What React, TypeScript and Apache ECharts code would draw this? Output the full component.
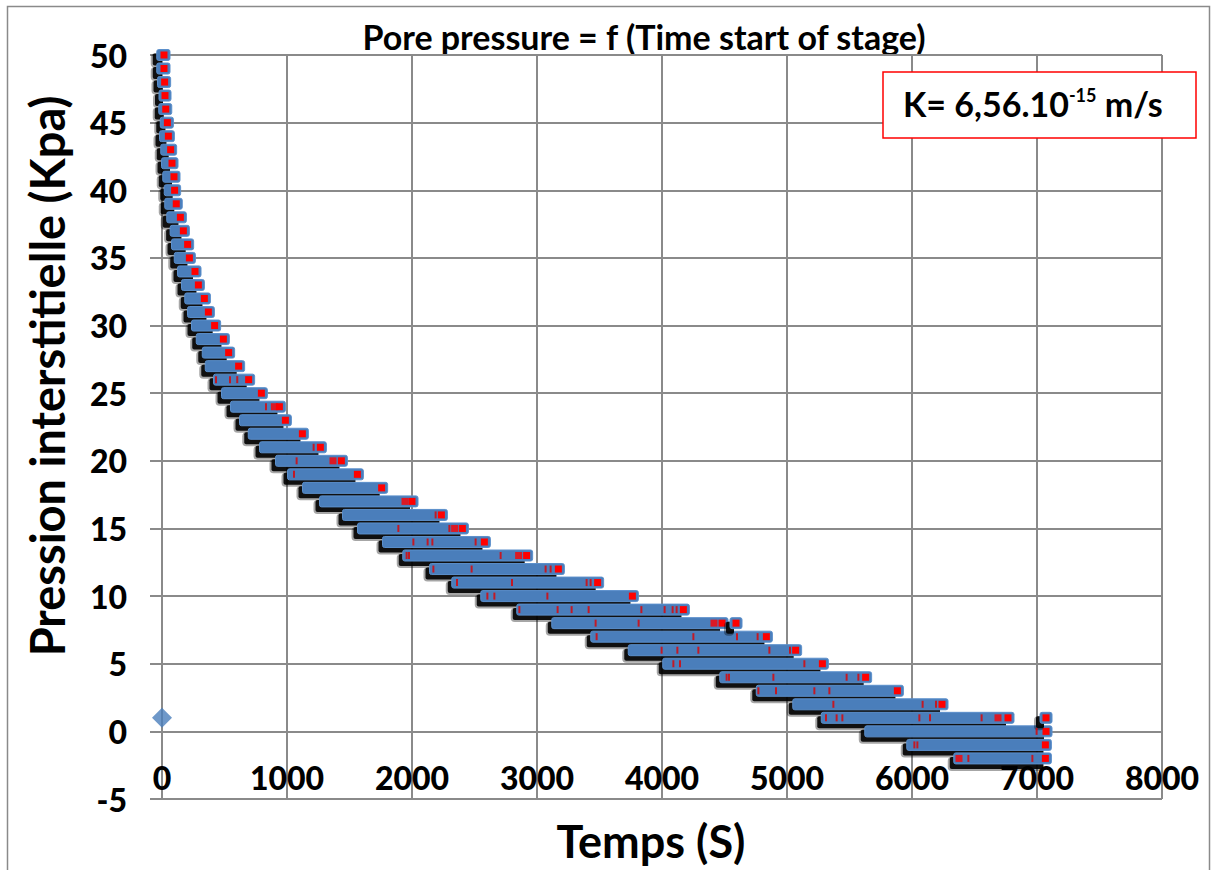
import React, { useEffect, useRef } from "react";
import * as echarts from "echarts";

// Stage pressure levels (kPa) with start / end times (s) of each stage
const pressures = [50, 49, 48, 47, 46, 45, 44, 43, 42, 41, 40, 39, 38, 37, 36, 35, 34, 33, 32, 31, 30, 29, 28, 27, 26, 25, 24, 23, 22, 21, 20, 19, 18, 17, 16, 15, 14, 13, 12, 11, 10, 9, 8, 7, 6, 5, 4, 3, 2, 1, 0, -1, -2];
const startTimes = [6, 6, 12, 24, 22, 34, 28, 38, 44, 54, 66, 70, 86, 113, 124, 146, 172, 204, 230, 252, 284, 322, 370, 394, 460, 524, 596, 668, 738, 828, 956, 1052, 1172, 1308, 1492, 1612, 1812, 1974, 2188, 2366, 2598, 2886, 3166, 3478, 3778, 4054, 4510, 4802, 5094, 5322, 5670, 6006, 6382];
const endTimes = [16, 16, 21, 24, 30, 43, 51, 69, 80, 96, 101, 114, 147, 171, 205, 219, 264, 291, 339, 371, 421, 491, 533, 613, 693, 795, 939, 987, 1123, 1267, 1435, 1563, 1757, 2000, 2235, 2403, 2579, 2917, 3171, 3485, 3763, 4171, 4480, 4835, 5069, 5283, 5629, 5883, 6240, 6768, 7072, 7067, 7067];

// isolated single points [time, pressure]
const isolatedPoints = [[4592, 8], [7072, 1]];
// secondary red square markers [time, pressure]
const extraRedSquares = [[899, 24], [1368, 20], [1944, 17], [2341, 15], [2853, 13], [4416, 8], [6688, 1], [6376, -2]];
// thin red marks visible inside the bars [time, pressure]
const redTicks = [
  [432, 26], [544, 26], [602, 26], [832, 24], [1213, 21], [1077, 20], [1056, 19], [2189, 16],
  [1891, 15], [2299, 15], [2011, 14], [2125, 14], [2163, 14], [2509, 14],
  [1957, 13], [1976, 13], [2709, 13], [2171, 12], [2477, 12], [3069, 12], [3109, 12],
  [2360, 11], [2800, 11], [3397, 11], [3429, 11], [2603, 10], [2659, 10], [3083, 10],
  [2859, 9], [3165, 9], [3277, 9], [3413, 9], [3835, 9], [4021, 9], [4085, 9], [4117, 9],
  [3469, 8], [3813, 8], [3477, 7], [4251, 7], [4600, 7], [4765, 7],
  [3997, 6], [4123, 6], [4291, 6], [4859, 6], [5024, 6], [4091, 5], [4144, 5], [5139, 5],
  [4517, 4], [4536, 4], [4891, 4], [5477, 4], [5571, 4], [4771, 3], [4912, 3], [5219, 3], [5339, 3],
  [5371, 2], [6085, 2], [6192, 2], [5312, 1], [5397, 1], [5443, 1], [6059, 1], [6144, 1], [6557, 1],
  [6997, 0], [6019, -1], [6043, -1], [6451, -2], [6963, -2],
];
// initial point (diamond)
const initialPoint = [[0, 1]];

const xTicks = { min: 0, max: 8000, interval: 1000 };
const yTicks = { min: -5, max: 50, interval: 5 };

const FONT = "Lato, 'Open Sans', sans-serif";
const BLUE = "#4A7EBB";
const GRID = "#8a8a8a";

export default function App() {
  const ref = useRef<HTMLDivElement>(null);
  useEffect(() => {
    if (!ref.current) return;
    const chart = echarts.init(ref.current, null, { renderer: "svg" });
    const stageData = pressures.map((p, i) => [startTimes[i], endTimes[i], p]);
    isolatedPoints.forEach(([t, p]) => stageData.push([t, t, p]));

    const renderItem = (params: any, api: any) => {
      const s = api.value(0);
      const e = api.value(1);
      const p = api.value(2);
      const a = api.coord([s, p]);
      const b = api.coord([e, p]);
      const h = 11;
      const x0 = a[0] - 6;
      const w = b[0] - a[0] + 12;
      const y0 = a[1] - h / 2;
      return {
        type: "group",
        children: [
          {
            type: "rect",
            shape: { x: x0 - 6, y: y0 + 4, width: Math.max(w - 2, 8), height: h + 3, r: 4 },
            style: { fill: "rgba(0,0,0,0.35)" },
          },
          {
            type: "rect",
            shape: { x: x0 - 4, y: y0 + 4, width: Math.max(w - 4, 6), height: h + 1, r: 2 },
            style: { fill: "rgba(0,0,0,0.9)" },
          },
          {
            type: "rect",
            shape: { x: x0, y: y0, width: w, height: h, r: 2 },
            style: { fill: BLUE, stroke: "#5B8FCB", lineWidth: 1 },
          },
          {
            type: "rect",
            shape: { x: b[0] - 3.5, y: b[1] - 3.5, width: 7, height: 7 },
            style: { fill: "#FF0000" },
          },
        ],
      };
    };

    chart.setOption({
      animation: false,
      backgroundColor: "#ffffff",
      grid: { left: 162, right: 52, top: 55, bottom: 71 },
      xAxis: {
        type: "value",
        min: xTicks.min,
        max: xTicks.max,
        interval: xTicks.interval,
        axisLine: { show: false },
        axisTick: { show: false },
        axisLabel: {
          inside: true,
          margin: 6,
          fontSize: 32,
          fontWeight: 900,
          fontFamily: FONT,
          color: "#000",
          formatter: (v: number) => String(v),
        },
        splitLine: { show: true, lineStyle: { color: GRID, width: 2 } },
      },
      yAxis: {
        type: "value",
        min: yTicks.min,
        max: yTicks.max,
        interval: yTicks.interval,
        axisLine: { show: false },
        axisTick: { show: true, length: 12, lineStyle: { color: GRID, width: 2 } },
        axisLabel: {
          margin: 35,
          fontSize: 32,
          fontWeight: 900,
          fontFamily: FONT,
          color: "#000",
          formatter: (v: number) => String(v),
        },
        splitLine: { show: true, lineStyle: { color: GRID, width: 2 } },
      },
      graphic: [
        {
          type: "rect",
          shape: { x: 7.5, y: 6.5, width: 1202, height: 900 },
          style: { fill: "none", stroke: GRID, lineWidth: 1.5 },
          silent: true,
          z: -10,
        },
        {
          type: "text",
          x: 644,
          y: 36,
          style: {
            text: "Pore pressure = f (Time start of stage)",
            font: `bold 34px ${FONT}`,
            fill: "#000",
            align: "center",
            verticalAlign: "middle",
            textAlign: "center",
            textVerticalAlign: "middle",
          },
        },
        {
          type: "text",
          x: 651,
          y: 841,
          style: {
            text: "Temps (S)",
            font: `bold 45px ${FONT}`,
            fill: "#000",
            align: "center",
            verticalAlign: "middle",
            textAlign: "center",
            textVerticalAlign: "middle",
          },
        },
        {
          type: "text",
          x: 47,
          y: 376,
          rotation: Math.PI / 2,
          style: {
            text: "Pression interstitielle (Kpa)",
            font: `bold 47px ${FONT}`,
            fill: "#000",
            align: "center",
            verticalAlign: "middle",
            textAlign: "center",
            textVerticalAlign: "middle",
          },
        },
        {
          type: "rect",
          shape: { x: 883, y: 72, width: 313, height: 66 },
          style: { fill: "#fff", stroke: "#FF0000", lineWidth: 1.5 },
          z: 100,
        },
        {
          type: "text",
          x: 903,
          y: 103,
          z: 101,
          style: {
            text: "{a|K= 6,56.10}{s|-15}{a| m/s}",
            fill: "#000",
            align: "left",
            verticalAlign: "middle",
            textAlign: "left",
            textVerticalAlign: "middle",
            rich: {
              a: { font: `bold 34px ${FONT}`, fill: "#000", verticalAlign: "bottom" },
              s: { font: `bold 18px ${FONT}`, fill: "#000", verticalAlign: "top" },
            },
          },
        },
      ],
      series: [
        {
          type: "custom",
          renderItem,
          data: stageData,
          encode: { x: [0, 1], y: 2 },
          z: 3,
        },
        {
          type: "scatter",
          data: redTicks,
          symbol: "rect",
          symbolSize: [2, 7],
          itemStyle: { color: "#E00000" },
          z: 4,
        },
        {
          type: "scatter",
          data: extraRedSquares,
          symbol: "rect",
          symbolSize: 7,
          itemStyle: { color: "#FF0000" },
          z: 4,
        },
        {
          type: "scatter",
          data: initialPoint,
          symbol: "diamond",
          symbolSize: 20,
          itemStyle: { color: BLUE },
          z: 5,
        },
      ],
    });
    return () => chart.dispose();
  }, []);
  return (
    <div
      ref={ref}
      style={{ position: "fixed", left: 0, top: 0, width: 1214, height: 870, background: "#fff" }}
    />
  );
}
